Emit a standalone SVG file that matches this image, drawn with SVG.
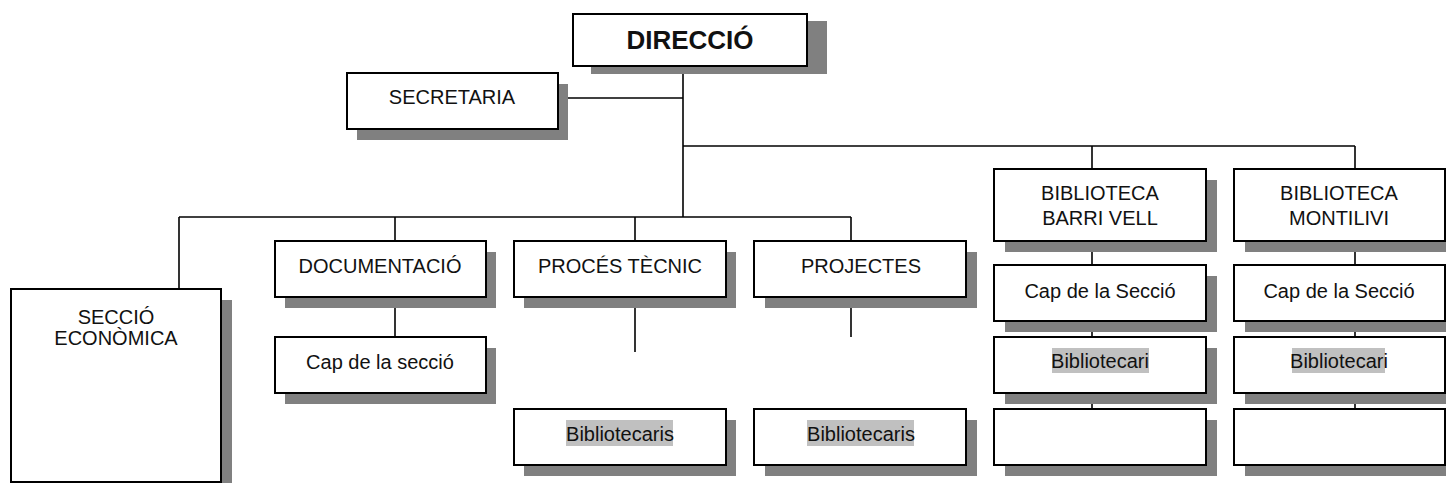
<svg xmlns="http://www.w3.org/2000/svg" width="1446" height="483" viewBox="0 0 1446 483">
  <style>
    .box { fill: #ffffff; stroke: #000000; stroke-width: 2; }
    .shadow { fill: #808080; stroke: none; }
    .line { fill: none; stroke: #000000; stroke-width: 1.6; }
    .lbl { font-family: "Liberation Sans", Arial, sans-serif; font-size: 20px; fill: #111111; text-anchor: middle; }
    .title { font-family: "Liberation Sans", Arial, sans-serif; font-size: 26px; font-weight: bold; fill: #111111; text-anchor: middle; }
    .hl { fill: #c0c0c0; stroke: none; }
  </style>

  <rect width="1446" height="483" fill="#ffffff"/>

  <!-- connectors -->
  <g id="connectors">
    <path class="line" d="M683 74 V217"/>
    <path class="line" d="M568 98 H683"/>
    <path class="line" d="M683 146 H1355"/>
    <path class="line" d="M1092 146 V169"/>
    <path class="line" d="M1355 146 V169"/>
    <path class="line" d="M179 217 H851"/>
    <path class="line" d="M179 217 V289"/>
    <path class="line" d="M395 217 V241"/>
    <path class="line" d="M635 217 V241"/>
    <path class="line" d="M851 217 V241"/>
    <path class="line" d="M395 308 V337"/>
    <path class="line" d="M635 308 V352"/>
    <path class="line" d="M851 308 V337"/>
    <path class="line" d="M1092 252 V265"/>
    <path class="line" d="M1092 332 V337"/>
    <path class="line" d="M1092 404 V409"/>
    <path class="line" d="M1355 252 V265"/>
    <path class="line" d="M1355 332 V337"/>
    <path class="line" d="M1355 404 V409"/>
  </g>

  <g id="direccio">
    <rect class="shadow" x="591" y="21" width="236" height="53"/>
    <rect class="box" x="573" y="14" width="234" height="52"/>
    <text class="title" x="690" y="49">DIRECCIÓ</text>
  </g>

  <g id="secretaria">
    <rect class="shadow" x="357" y="84" width="211" height="56"/>
    <rect class="box" x="347" y="73" width="211" height="56"/>
    <text class="lbl" x="452" y="104">SECRETARIA</text>
  </g>

  <g id="seccio-economica">
    <rect class="shadow" x="22" y="300" width="210" height="190"/>
    <rect class="box" x="11" y="289" width="210" height="193"/>
    <text class="lbl" x="116" y="324">SECCIÓ</text>
    <text class="lbl" x="116" y="345">ECONÒMICA</text>
  </g>

  <g id="documentacio">
    <rect class="shadow" x="285" y="252" width="211" height="56"/>
    <rect class="box" x="275" y="241" width="211" height="56"/>
    <text class="lbl" x="380" y="273">DOCUMENTACIÓ</text>
  </g>

  <g id="documentacio-cap">
    <rect class="shadow" x="285" y="348" width="211" height="56"/>
    <rect class="box" x="275" y="337" width="211" height="56"/>
    <text class="lbl" x="380" y="369">Cap de la secció</text>
  </g>

  <g id="proces-tecnic">
    <rect class="shadow" x="524" y="252" width="212" height="56"/>
    <rect class="box" x="514" y="241" width="212" height="56"/>
    <text class="lbl" x="620" y="273">PROCÉS TÈCNIC</text>
  </g>

  <g id="proces-tecnic-bibliotecaris">
    <rect class="shadow" x="524" y="420" width="212" height="56"/>
    <rect class="box" x="514" y="409" width="212" height="56"/>
    <rect class="hl" x="566" y="420" width="107" height="26"/>
    <text class="lbl" x="620" y="441">Bibliotecaris</text>
  </g>

  <g id="projectes">
    <rect class="shadow" x="765" y="252" width="212" height="56"/>
    <rect class="box" x="754" y="241" width="212" height="56"/>
    <text class="lbl" x="861" y="273">PROJECTES</text>
  </g>

  <g id="projectes-bibliotecaris">
    <rect class="shadow" x="765" y="420" width="212" height="56"/>
    <rect class="box" x="754" y="409" width="212" height="56"/>
    <rect class="hl" x="807" y="420" width="107" height="26"/>
    <text class="lbl" x="861" y="441">Bibliotecaris</text>
  </g>

  <g id="barri-vell">
    <rect class="shadow" x="1005" y="180" width="212" height="72"/>
    <rect class="box" x="994" y="169" width="212" height="72"/>
    <text class="lbl" x="1100" y="200">BIBLIOTECA</text>
    <text class="lbl" x="1100" y="225">BARRI VELL</text>
  </g>

  <g id="barri-vell-cap">
    <rect class="shadow" x="1005" y="276" width="212" height="56"/>
    <rect class="box" x="994" y="265" width="212" height="56"/>
    <text class="lbl" x="1100" y="298">Cap de la Secció</text>
  </g>

  <g id="barri-vell-bibliotecari">
    <rect class="shadow" x="1005" y="348" width="212" height="56"/>
    <rect class="box" x="994" y="337" width="212" height="56"/>
    <rect class="hl" x="1052" y="348" width="97" height="25"/>
    <text class="lbl" x="1100" y="368">Bibliotecari</text>
  </g>

  <g id="barri-vell-buit">
    <rect class="shadow" x="1005" y="420" width="212" height="56"/>
    <rect class="box" x="994" y="409" width="212" height="56"/>
  </g>

  <g id="montilivi">
    <rect class="shadow" x="1245" y="180" width="212" height="72"/>
    <rect class="box" x="1234" y="169" width="211" height="72"/>
    <text class="lbl" x="1339" y="200">BIBLIOTECA</text>
    <text class="lbl" x="1339" y="225">MONTILIVI</text>
  </g>

  <g id="montilivi-cap">
    <rect class="shadow" x="1245" y="276" width="212" height="56"/>
    <rect class="box" x="1234" y="265" width="211" height="56"/>
    <text class="lbl" x="1339" y="298">Cap de la Secció</text>
  </g>

  <g id="montilivi-bibliotecari">
    <rect class="shadow" x="1245" y="348" width="212" height="56"/>
    <rect class="box" x="1234" y="337" width="211" height="56"/>
    <rect class="hl" x="1292" y="348" width="93" height="25"/>
    <text class="lbl" x="1339" y="368">Bibliotecari</text>
  </g>

  <g id="montilivi-buit">
    <rect class="shadow" x="1245" y="420" width="212" height="56"/>
    <rect class="box" x="1234" y="409" width="211" height="56"/>
  </g>
</svg>
